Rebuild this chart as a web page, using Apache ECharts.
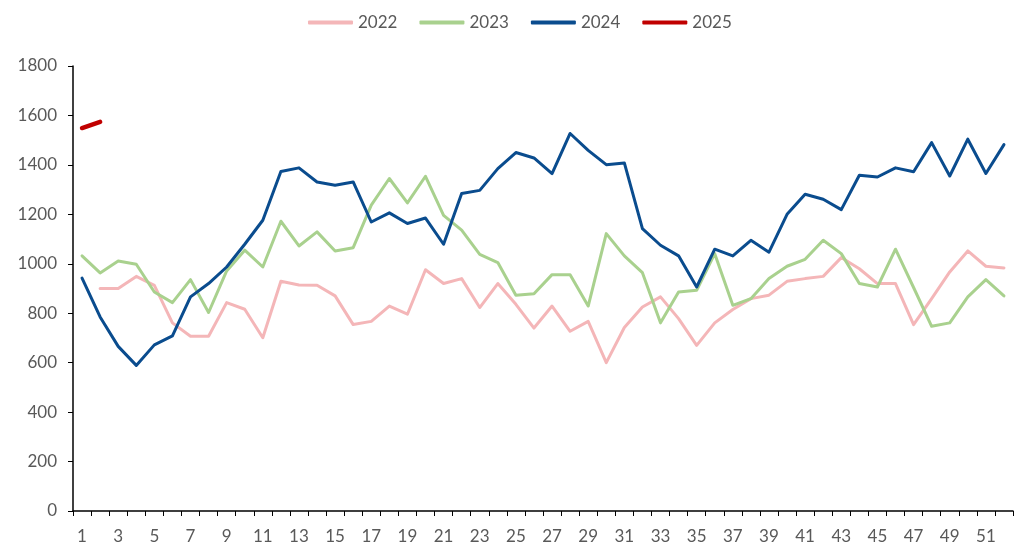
<!DOCTYPE html>
<html>
<head>
<meta charset="utf-8">
<script src="https://cdn.jsdelivr.net/npm/echarts@6/dist/echarts.min.js"></script>
<style>html,body{margin:0;padding:0;background:#fff}#c{width:1015px;height:546px}</style>
</head>
<body>
<div id="c"></div>
<script>
const weeks = Array.from({length:52},(_,i)=>String(i+1));
const s2022 = [null,900,900,949,913,761,707,707,843,816,701,929,914,913,870,754,767,829,796,976,920,940,823,920,836,740,829,727,767,600,742,825,866,778,670,761,815,859,873,929,940,949,1025,980,920,920,754,859,967,1052,990,983];
const s2023 = [1032,963,1011,998,886,843,936,803,971,1055,987,1172,1072,1129,1052,1065,1237,1345,1246,1354,1196,1136,1038,1005,873,879,956,956,829,1122,1032,964,761,886,893,1041,832,859,940,990,1018,1095,1041,920,906,1059,904,747,761,866,936,870];
const s2024 = [942,785,666,589,672,708,866,920,987,1079,1176,1373,1388,1331,1318,1331,1169,1206,1163,1185,1079,1284,1297,1385,1450,1428,1365,1527,1459,1401,1408,1142,1075,1032,906,1059,1032,1095,1047,1200,1281,1261,1219,1358,1351,1388,1372,1490,1355,1504,1365,1482];
const s2025 = [1549,1574];
const seriesNames = ['2022','2023','2024','2025'];
const colors = ['#F4B6B8','#A9D18E','#0A4C8E','#C00000'];
const widths = [3,3,3,4.5];
const font = '"Lato", sans-serif';
const chart = echarts.init(document.getElementById('c'));
const mk = (name, data, color, w) => ({
  name, type:'line', data, symbol:'none', showSymbol:false,
  lineStyle:{color, width:w, cap:'round', join:'round'}, itemStyle:{color},
  connectNulls:false, animation:false
});
chart.setOption({
  animation:false,
  textStyle:{fontFamily:font},
  legend:{
    top:9, left:303, itemWidth:45, itemHeight:4, itemGap:22,
    icon:'roundRect',
    textStyle:{fontSize:17, color:'#595959', fontFamily:font},
    data:seriesNames
  },
  grid:{left:73, right:2, top:66, bottom:35, containLabel:false},
  xAxis:{
    type:'category', data:weeks, boundaryGap:true,
    axisLine:{lineStyle:{color:'#000', width:1.5}},
    axisTick:{show:true, interval:0, length:5, lineStyle:{color:'#000'}},
    axisLabel:{interval:1, fontSize:17, color:'#595959', margin:17, fontFamily:font}
  },
  yAxis:{
    type:'value', min:0, max:1800, interval:200,
    axisLine:{show:true, lineStyle:{color:'#000', width:1.5}},
    axisTick:{show:true, length:5, lineStyle:{color:'#000'}},
    splitLine:{show:false},
    axisLabel:{fontSize:17, color:'#595959', margin:16, fontFamily:font, formatter:v=>String(v)}
  },
  series:[
    mk('2022', s2022, colors[0], widths[0]),
    mk('2023', s2023, colors[1], widths[1]),
    mk('2024', s2024, colors[2], widths[2]),
    mk('2025', s2025, colors[3], widths[3])
  ]
});
</script>
</body>
</html>
